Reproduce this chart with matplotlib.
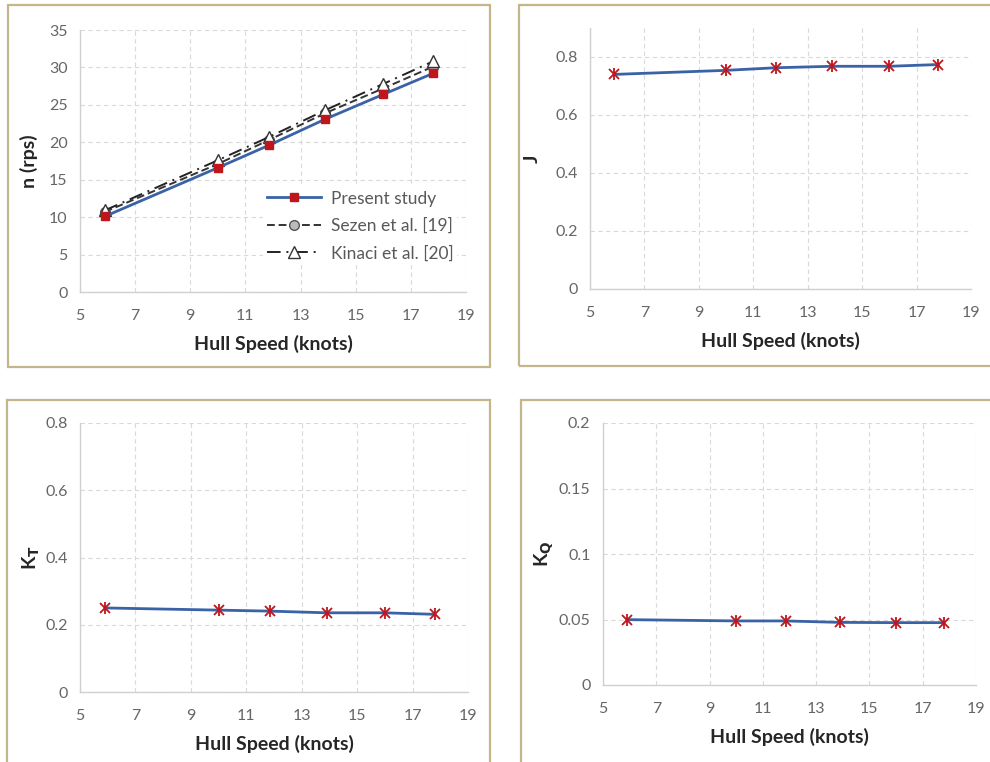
import matplotlib
matplotlib.use('Agg')
import matplotlib.pyplot as plt
from matplotlib.patches import Rectangle

plt.rcParams['font.family'] = ['Lato', 'DejaVu Sans']

# hull speed (knots)
speed = [5.9, 10.0, 11.85, 13.9, 16.0, 17.8]

# propeller rate n (rps)
n_present = [10.1, 16.6, 19.6, 23.1, 26.4, 29.2]
n_sezen = [10.7, 17.1, 20.3, 23.9, 27.2, 30.1]
n_kinaci = [10.9, 17.6, 20.7, 24.3, 27.8, 30.8]

# advance coefficient and thrust / torque coefficients
J = [0.740, 0.754, 0.763, 0.768, 0.768, 0.774]
KT = [0.250, 0.2435, 0.2405, 0.2355, 0.2355, 0.231]
KQ = [0.0499, 0.0489, 0.0489, 0.0478, 0.0476, 0.0476]

xticks = [5, 7, 9, 11, 13, 15, 17, 19]

blue = '#3A62A6'
red = '#C0151B'
border = '#C2B68A'
tickgray = '#666666'

fig = plt.figure(figsize=(9.9, 7.62), dpi=100)
W, H = 990.0, 762.0

# panel frames (pixel boxes)
for (x0, y0, x1, y1) in [(8, 5, 490, 367), (519, 5, 1000, 366),
                         (7, 400, 490, 770), (521, 400, 1000, 770)]:
    fig.patches.append(Rectangle((x0 / W, 1 - y1 / H), (x1 - x0) / W, (y1 - y0) / H,
                                 transform=fig.transFigure, fill=False,
                                 edgecolor=border, linewidth=1.6))


def make_ax(px):
    x0, y0, x1, y1 = px
    ax = fig.add_axes([x0 / W, 1 - y1 / H, (x1 - x0) / W, (y1 - y0) / H])
    for s in ['top', 'right']:
        ax.spines[s].set_visible(False)
    for s in ['left', 'bottom']:
        ax.spines[s].set_color('#D0D0D0')
        ax.spines[s].set_linewidth(1.0)
    ax.set_xlim(5, 19)
    ax.set_xticks(xticks)
    ax.tick_params(length=0, labelsize=11.5, labelcolor=tickgray)
    ax.tick_params(axis='x', pad=12)
    ax.tick_params(axis='y', pad=9)
    ax.grid(True, color='#D9D9D9', linestyle=(0, (4, 3)), linewidth=0.8)
    ax.set_axisbelow(True)
    ax.set_xlabel('Hull Speed (knots)', fontsize=14, fontweight='bold',
                  color='#262626', labelpad=9)
    return ax


def star_plot(ax, y):
    ax.plot(speed, y, color=blue, linewidth=2.0, zorder=3)
    ax.plot(speed, y, linestyle='none', marker='x', markersize=7,
            markeredgecolor=red, markeredgewidth=1.3, zorder=4)
    ax.plot(speed, y, linestyle='none', marker='|', markersize=8,
            markeredgecolor=red, markeredgewidth=1.3, zorder=4)


# n (rps)
ax1 = make_ax((80, 30, 466, 292))
ax1.plot(speed, n_present, color=blue, linewidth=2.0, marker='s', markersize=6,
         markerfacecolor=red, markeredgecolor=red, label='Present study', zorder=4)
ax1.plot(speed, n_sezen, color='#333333', linewidth=1.4, linestyle=(0, (4, 2)),
         marker='o', markersize=7, markerfacecolor='#BBBBBB', markeredgecolor='#555555',
         label='Sezen et al. [19]', zorder=3)
ax1.plot(speed, n_kinaci, color='#222222', linewidth=1.4, linestyle=(0, (7, 3, 1, 3)),
         marker='^', markersize=8, markerfacecolor='white', markeredgecolor='#333333',
         label='Kinaci et al. [20]', zorder=3)
ax1.set_ylim(0, 35)
ax1.set_yticks(range(0, 36, 5))
ax1.set_ylabel('n (rps)', fontsize=14, fontweight='bold', color='#262626', labelpad=8)
leg = ax1.legend(loc='lower right', bbox_to_anchor=(1.0, 0.07), frameon=True,
                 fontsize=12.5, handlelength=3.1, handletextpad=0.6,
                 labelspacing=0.65, borderpad=0.2)
leg.get_frame().set_facecolor('white')
leg.get_frame().set_edgecolor('none')
leg.get_frame().set_alpha(1)
for t in leg.get_texts():
    t.set_color('#595959')

# J
ax2 = make_ax((590, 28, 971, 289))
star_plot(ax2, J)
ax2.set_ylim(0, 0.9)
ax2.set_yticks([0, 0.2, 0.4, 0.6, 0.8])
ax2.set_yticklabels(['0', '0.2', '0.4', '0.6', '0.8'])
ax2.set_ylabel('J', fontsize=14, fontweight='bold', color='#262626', labelpad=10)

# KT
ax3 = make_ax((80, 423, 468, 692))
star_plot(ax3, KT)
ax3.set_ylim(0, 0.8)
ax3.set_yticks([0, 0.2, 0.4, 0.6, 0.8])
ax3.set_yticklabels(['0', '0.2', '0.4', '0.6', '0.8'])
ax3.set_ylabel(r'K$_\mathbf{T}$', fontsize=14, fontweight='bold', color='#262626', labelpad=2)

# KQ
ax4 = make_ax((603, 423, 976, 685))
star_plot(ax4, KQ)
ax4.set_ylim(0, 0.2)
ax4.set_yticks([0, 0.05, 0.1, 0.15, 0.2])
ax4.set_yticklabels(['0', '0.05', '0.1', '0.15', '0.2'])
ax4.set_ylabel(r'K$_\mathbf{Q}$', fontsize=14, fontweight='bold', color='#262626', labelpad=2)

plt.savefig('out.png', dpi=100)
